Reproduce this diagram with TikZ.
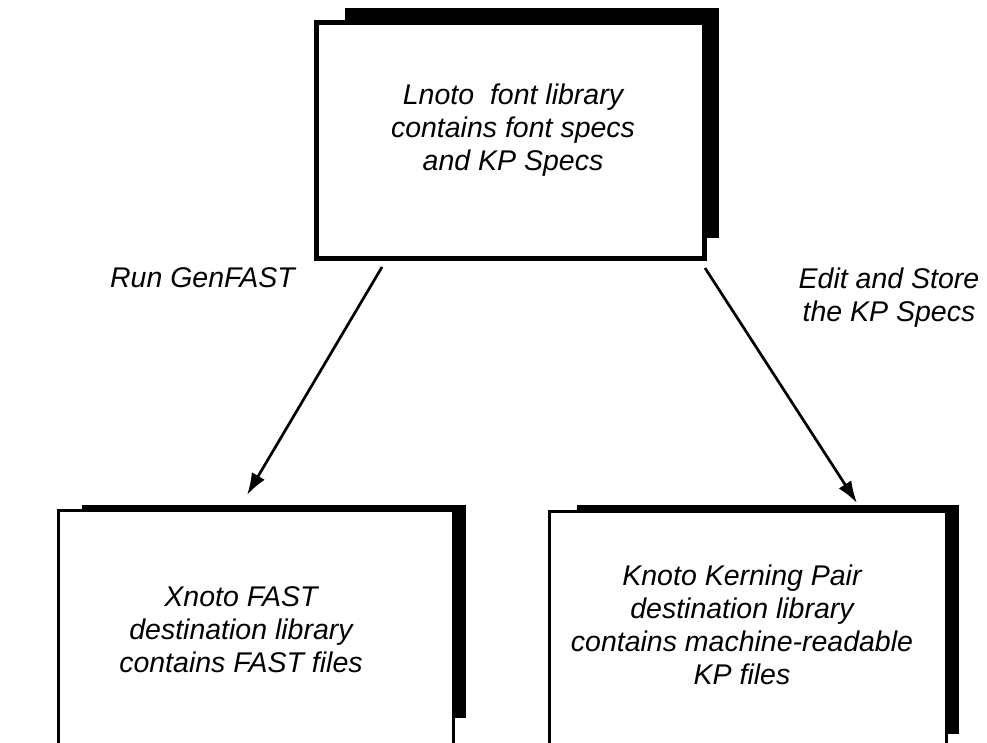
\documentclass[tikz,border=0pt]{standalone}
\usepackage{fontspec}
\setmainfont{Liberation Sans}
\usetikzlibrary{arrows.meta,calc}

\begin{document}
\begin{tikzpicture}[x=1pt, y=-1pt, >={Latex[length=22pt,width=15pt]},
    every text node part/.style={align=center},
    frame/.style={draw, rectangle, fill=white, line width=3pt, outer sep=0pt},
    txt/.style={font=\fontsize{28.5}{33}\selectfont\itshape, inner sep=0pt},
    link/.style={->, line width=2.7pt}]
    \path[use as bounding box] (0,0) rectangle (987,743);
    \clip (0,0) rectangle (987,743);

    % shadows behind the boxes
    \fill (345,8) rectangle (719,238);
    \fill (82,505) rectangle (466,718);
    \fill (577,505) rectangle (959,734);

    \node [frame, line width=5pt, minimum width=387.5, minimum height=236] (lnoto) at (510.25,140.5) {};
    \node [frame, minimum width=395, minimum height=269.5] (xnoto) at (256,645.25) {};
    \node [frame, minimum width=396.5, minimum height=269] (knoto) at (747.75,645.5) {};

    \node [txt] (lnotoTxt) at (513,130.3) {Lnoto\ \ font library\\contains font specs\\and KP Specs};
    \node [txt] (xnotoTxt) at (241,630) {Xnoto FAST\\destination library\\contains FAST files};
    \node [txt] (knotoTxt) at (742,624.5) {Knoto Kerning Pair\\destination library\\contains machine-readable\\KP files};

    \node [txt] (runLbl) at (202.5,278) {Run GenFAST};
    \node [txt] (editLbl) at (889,297.3) {Edit and Store\\the KP Specs};

    \draw [link] ([shift={(65.5,8.5)}]lnoto.south west) -- ([shift={(188.5,-15.5)}]xnoto.north west);
    \draw [link] ([shift={(1,9.5)}]lnoto.south east) -- ([shift={(307.5,-8)}]knoto.north west);
\end{tikzpicture}
\end{document}
